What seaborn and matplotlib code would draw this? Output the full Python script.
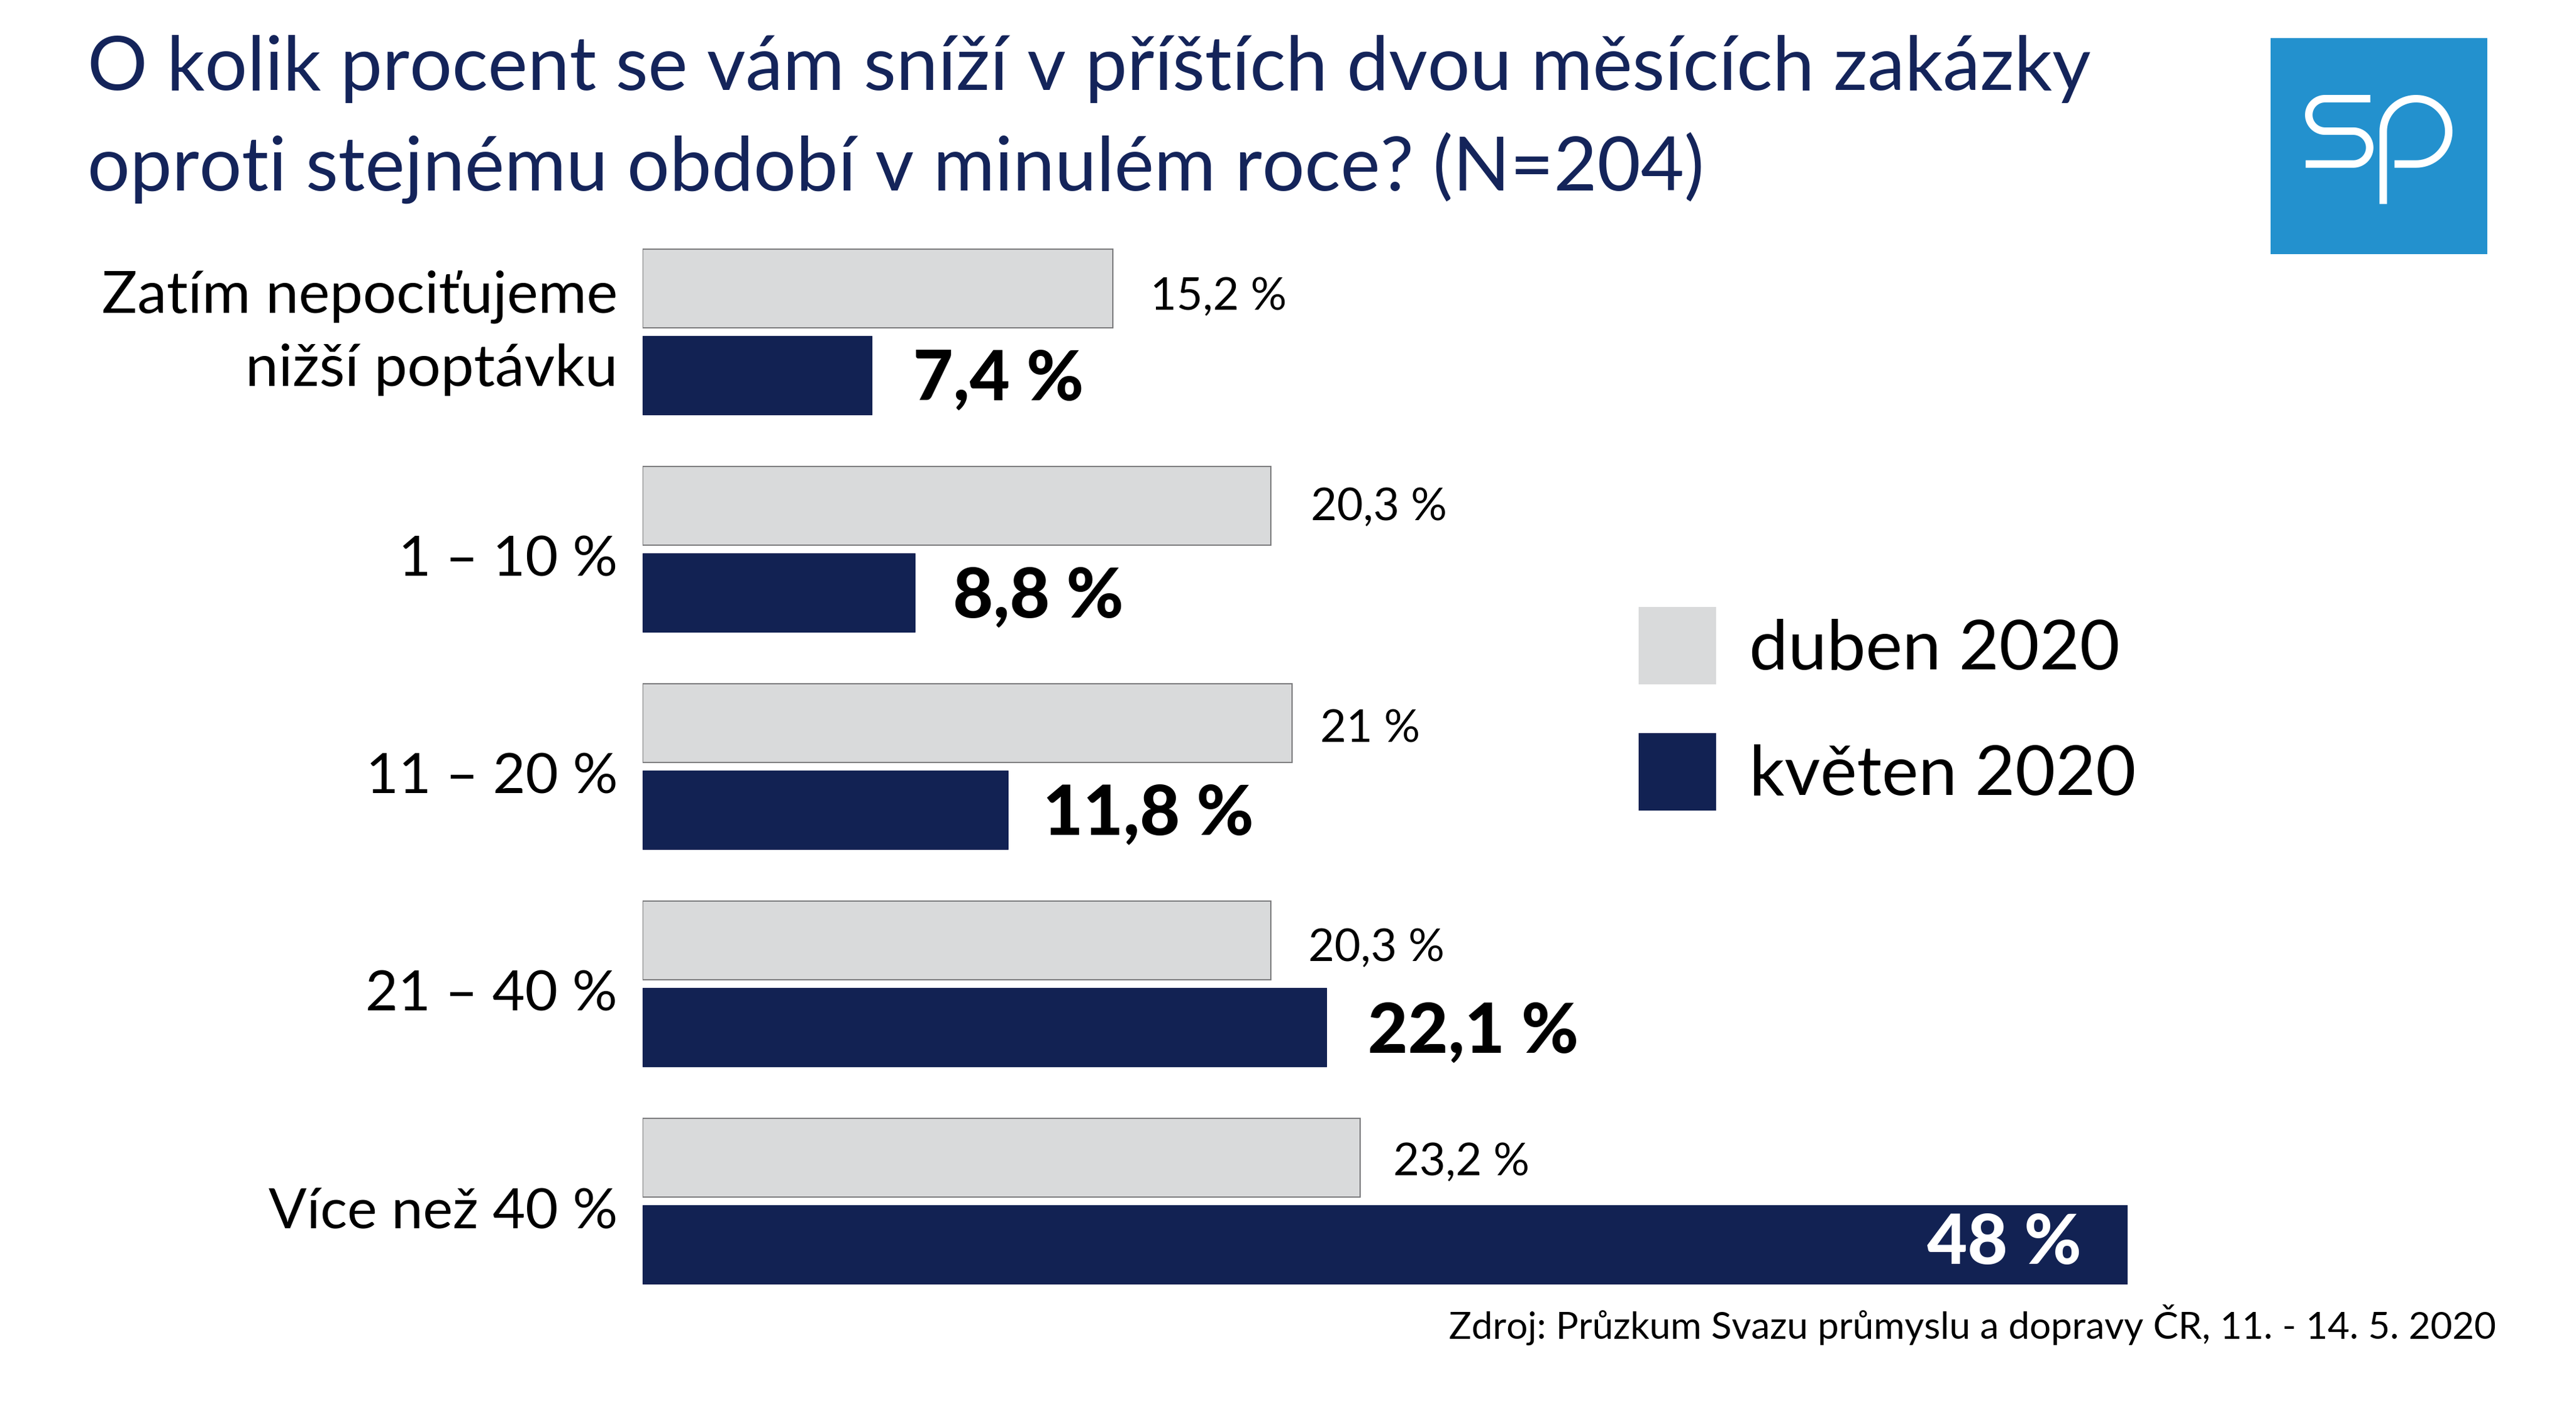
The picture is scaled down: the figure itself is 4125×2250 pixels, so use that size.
import numpy as np
import pandas as pd
import seaborn as sns
import matplotlib
matplotlib.use("Agg")
import matplotlib.pyplot as plt
from matplotlib.transforms import ScaledTranslation

categories = ["Zatím nepociťujeme\nnižší poptávku", "1 – 10 %", "11 – 20 %", "21 – 40 %", "Více než 40 %"]
april = [15.2, 20.3, 21, 20.3, 23.2]
may = [7.4, 8.8, 11.8, 22.1, 48]
periods = ["duben 2020", "květen 2020"]
title = "O kolik procent se vám sníží v příštích dvou měsících zakázky\noproti stejnému období v minulém roce? (N=204)"
source = "Zdroj: Průzkum Svazu průmyslu a dopravy ČR, 11. - 14. 5. 2020"

W, H, DPI = 4125, 2250, 100
PT = 72 / DPI
GREY, NAVY, BLUE = "#D9DADB", "#122253", "#2391CE"
FONT = "Lato"

sns.set_theme(style="white")
plt.rcParams["font.family"] = [FONT, "DejaVu Sans"]
plt.rcParams["text.color"] = "black"

df = pd.DataFrame({
    "category": categories * 2,
    "value": april + may,
    "period": [periods[0]] * 5 + [periods[1]] * 5,
})

fig = plt.figure(figsize=(W / DPI, H / DPI), dpi=DPI, facecolor="white")
ax = fig.add_axes([1029 / W, 1 - 2097.5 / H, (3407 - 1029) / W, 1740 / H])
sns.barplot(data=df, y="category", x="value", hue="period", hue_order=periods,
            palette=[GREY, NAVY], width=0.80, gap=0.1, dodge=True, ax=ax,
            order=categories, saturation=1, err_kws={"linewidth": 0})
ax.set_xlim(0, 48)
ax.set_ylim(4.5, -0.5)
ax.set_xlabel("")
ax.set_ylabel("")
ax.set_xticks([])
sns.despine(ax=ax, left=True, bottom=True)
ax.tick_params(axis="y", length=0, pad=40 * PT, labelsize=68, labelcolor="black")

for i, lab in enumerate(ax.get_yticklabels()):
    if i == 0:
        lab.set_linespacing(1.47)
        lab.set_transform(lab.get_transform() + ScaledTranslation(0, 22 / DPI, fig.dpi_scale_trans))
    else:
        lab.set_fontsize(65)
        lab.set_transform(lab.get_transform() + ScaledTranslation(0, -10 / DPI, fig.dpi_scale_trans))

grey_bars, navy_bars = ax.containers[0], ax.containers[1]
for p in grey_bars:
    p.set_edgecolor("#7C7C7E")
    p.set_linewidth(2 * PT)
for p in navy_bars:
    p.set_edgecolor(NAVY)
    p.set_linewidth(1 * PT)

grey_gap_px = [60, 64, 45, 60, 53]
grey_dy_px = [-14, -3, -10, -13, -8]
navy_gap_px = [66, 61, 56, 66, -74]
navy_dy_px = [-7, -7, -7, -8, 2]


def fmt(v):
    return f"{v:g}".replace(".", ",") + " %"


for p, v, gx, gy in zip(grey_bars, april, grey_gap_px, grey_dy_px):
    ax.annotate(fmt(v), (p.get_width(), p.get_y() + p.get_height() / 2),
                xytext=(gx * PT, gy * PT), textcoords="offset points",
                ha="left", va="center", fontsize=52, color="black")
for p, v, gx, gy in zip(navy_bars, may, navy_gap_px, navy_dy_px):
    ax.annotate(fmt(v), (p.get_width(), p.get_y() + p.get_height() / 2),
                xytext=(gx * PT, gy * PT), textcoords="offset points",
                ha="right" if gx < 0 else "left", va="center", fontsize=80,
                fontweight="black", color="white" if gx < 0 else "black")

LEG_FS = 80
leg_side = 124 * PT
leg_hh = (leg_side / LEG_FS - 0.245) / 0.65
handles, labels = ax.get_legend_handles_labels()
leg = ax.legend(handles, labels, loc="upper left", frameon=False,
                bbox_to_anchor=(2624 / W, 1 - 972 / H), bbox_transform=fig.transFigure,
                fontsize=LEG_FS, borderpad=0, borderaxespad=0,
                handlelength=leg_side / LEG_FS, handleheight=leg_hh,
                handletextpad=0.48, labelspacing=0.70, labelcolor="black")
for h in leg.get_patches():
    h.set_edgecolor("none")

fig.text(139.5 / W, 1 - 191 / H, title, ha="left", va="center", fontsize=86.5, color="#14245A",
         linespacing=1.5)
fig.text(3997 / W, 1 - 2121 / H, source, ha="right", va="center", fontsize=43.5, color="black")

logo = fig.add_axes([3636 / W, 1 - 407 / H, 347 / W, 346 / H], facecolor=BLUE)
logo.set_xlim(109, 1148)
logo.set_ylim(1131, 93)
logo.set_xticks([])
logo.set_yticks([])
for s in logo.spines.values():
    s.set_visible(False)


def arc(cx, cy, r, a0, a1):
    t = np.radians(np.linspace(a0, a1, 60))
    return np.column_stack([cx + r * np.cos(t), cy + r * np.sin(t)])


s_path = np.vstack([[[587, 384]], arc(370, 462, 78, 270, 90), arc(505, 619, 79, -90, 90), [[277, 698]]])
p_path = np.vstack([[[649, 890]], arc(806, 541, 157, 180, 450), [[703, 698]]])
for path in (s_path, p_path):
    logo.plot(path[:, 0], path[:, 1], color="white", lw=12 * PT, solid_capstyle="butt",
              solid_joinstyle="round")

fig.savefig("out.png", dpi=DPI, facecolor="white")
